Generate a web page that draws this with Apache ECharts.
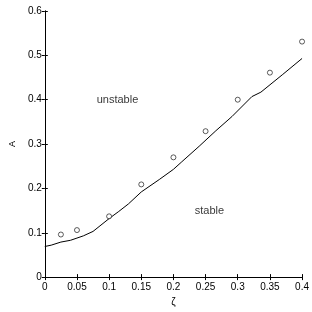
<!DOCTYPE html>
<html><head><meta charset="utf-8">
<script src="https://cdn.jsdelivr.net/npm/echarts@6/dist/echarts.min.js"></script>
<style>html,body{margin:0;padding:0;background:#fff}#c{width:312px;height:312px}</style>
</head><body><div id="c"></div>
<script>
const lineX = [0, 0.01, 0.025, 0.04, 0.05, 0.06, 0.075, 0.1, 0.115, 0.13, 0.15, 0.178, 0.2, 0.213, 0.24, 0.266, 0.291, 0.322, 0.336, 0.37, 0.4];
const lineY = [0.069, 0.072, 0.079, 0.083, 0.088, 0.093, 0.103, 0.132, 0.148, 0.165, 0.192, 0.22, 0.243, 0.26, 0.295, 0.33, 0.362, 0.407, 0.417, 0.457, 0.493];
const pointX = [0.025, 0.05, 0.1, 0.15, 0.2, 0.25, 0.3, 0.35, 0.4];
const pointY = [0.096, 0.106, 0.137, 0.209, 0.27, 0.329, 0.40, 0.461, 0.531];
const annotTexts = ['unstable', 'stable'];
const annotX = [0.113, 0.256];
const annotY = [0.40, 0.15];
const xTicks = [0, 0.05, 0.1, 0.15, 0.2, 0.25, 0.3, 0.35, 0.4];
const yTicks = [0, 0.1, 0.2, 0.3, 0.4, 0.5, 0.6];

const font = 'Liberation Sans, Arial, sans-serif';
const chart = echarts.init(document.getElementById('c'), null, {renderer: 'canvas'});
const axLine = {show: true, lineStyle: {color: '#000', width: 1}};
const tick = {show: true, inside: true, length: 3, lineStyle: {color: '#000'}};
chart.setOption({
  animation: false,
  backgroundColor: '#fff',
  grid: {left: 22, right: 7, top: 11, bottom: 25, containLabel: false},
  xAxis: [{
    type: 'value', min: 0, max: 0.4, interval: 0.05,
    name: 'ζ', nameLocation: 'middle', nameGap: 13,
    nameTextStyle: {fontFamily: font, fontSize: 10, color: '#000'},
    axisLine: axLine, axisTick: tick, splitLine: {show: false},
    axisLabel: {fontFamily: font, fontSize: 10, color: '#000', margin: 5}
  }, {
    type: 'value', min: 0, max: 0.4, interval: 0.05, position: 'top',
    axisLine: axLine, axisTick: tick, splitLine: {show: false}, axisLabel: {show: false}
  }],
  yAxis: [{
    type: 'value', min: 0, max: 0.6, interval: 0.1,
    name: 'A', nameLocation: 'middle', nameGap: 15, nameRotate: 90,
    nameTextStyle: {fontFamily: font, fontSize: 9, color: '#000'},
    axisLine: axLine, axisTick: tick, splitLine: {show: false},
    axisLabel: {fontFamily: font, fontSize: 10, color: '#000', margin: 3}
  }, {
    type: 'value', min: 0, max: 0.6, interval: 0.1, position: 'right',
    axisLine: axLine, axisTick: tick, splitLine: {show: false}, axisLabel: {show: false}
  }],
  series: [{
    type: 'line', data: lineX.map((x, i) => [x, lineY[i]]),
    showSymbol: false, lineStyle: {color: '#000', width: 1}
  }, {
    type: 'scatter', data: pointX.map((x, i) => [x, pointY[i]]),
    symbol: 'circle', symbolSize: 5, z: 5,
    itemStyle: {color: '#fff', borderColor: '#000', borderWidth: 0.8}
  }, {
    type: 'scatter', data: annotX.map((x, i) => [x, annotY[i], annotTexts[i]]),
    symbolSize: 0,
    label: {show: true, position: 'inside', formatter: p => p.data[2],
      fontFamily: font, fontSize: 11, color: '#000'}
  }]
});
</script></body></html>
